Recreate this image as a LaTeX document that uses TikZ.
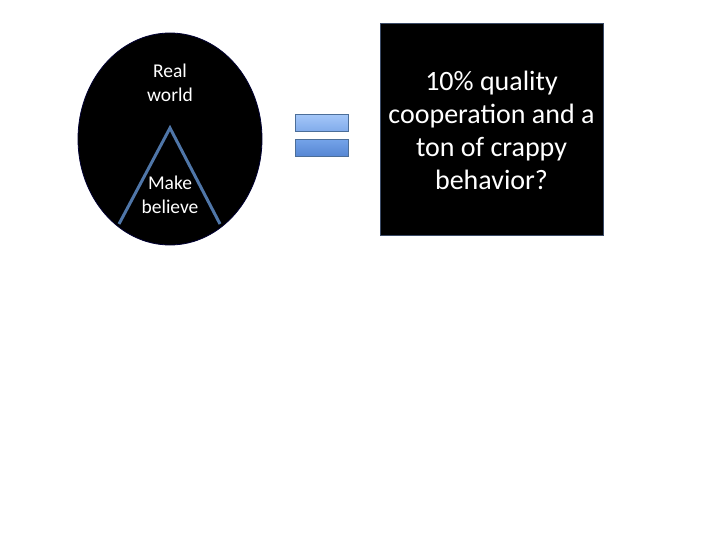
\documentclass[tikz,border=0pt]{standalone}
\usepackage{fontspec}
\setmainfont{Carlito}
\usetikzlibrary{shapes.geometric}
\definecolor{tri}{HTML}{4F76A8}
\definecolor{eqtopA}{HTML}{A3C6F8}
\definecolor{eqtopB}{HTML}{80AAEA}
\definecolor{eqbotA}{HTML}{73A2E8}
\definecolor{eqbotB}{HTML}{5585D2}
\definecolor{eqedge}{HTML}{4C6E98}
\definecolor{boxedge}{HTML}{3A4A66}
\tikzset{
  smalltext/.style={text=white, align=center, font=\fontsize{19.5}{24}\selectfont, inner sep=0pt},
  bigtext/.style={text=white, align=center, font=\fontsize{28}{33}\selectfont, inner sep=0pt},
  eqbar/.style={draw=eqedge, line width=1pt}
}
\begin{document}
\begin{tikzpicture}[x=1pt,y=-1pt]
\useasboundingbox (0,0) rectangle (720,540);
% ellipse
\node[ellipse, fill=black, draw=black!80!blue, line width=0.8pt, minimum width=184pt, minimum height=212pt, inner sep=0pt] (circ) at (170,139) {};
% triangle
\coordinate (apex) at (170,128);
\coordinate (lft) at (119,224);
\coordinate (rgt) at (220,224);
\draw[tri, line width=3pt] (lft) -- (apex) -- (rgt);
\node[smalltext] (real) at (170,83) {Real\\world};
\node[smalltext] (make) at (170,195) {Make\\believe};
% equals sign
\shade[top color=eqtopA, bottom color=eqtopB] (295,115) rectangle (348,132);
\draw[eqbar] (295,115) rectangle (348,132);
\shade[top color=eqbotA, bottom color=eqbotB] (295,140) rectangle (348,157);
\draw[eqbar] (295,140) rectangle (348,157);
% box
\node[fill=black, draw=boxedge, line width=0.8pt, minimum width=223pt, minimum height=212pt, inner sep=0pt] (box) at (491.5,129) {};
\node[bigtext] (boxtext) at (491.5,130) {10\% quality\\cooperation and a\\ton of crappy\\behavior?};
\end{tikzpicture}
\end{document}
